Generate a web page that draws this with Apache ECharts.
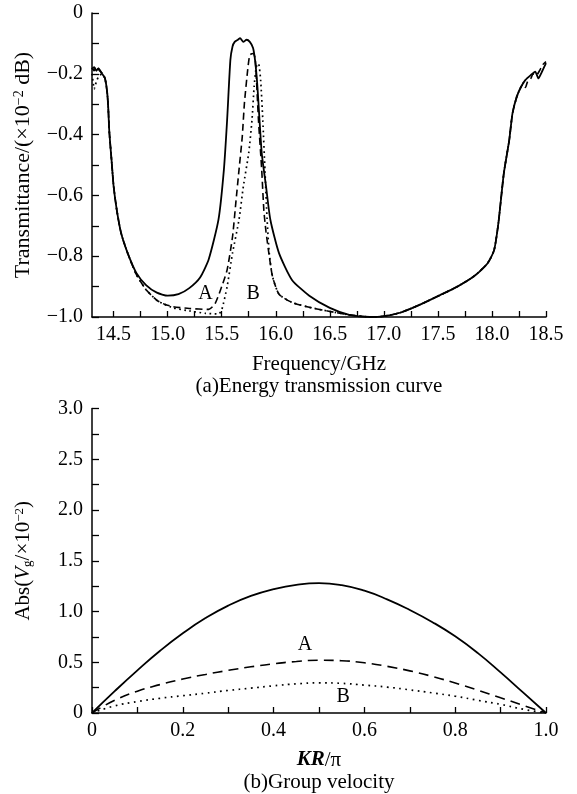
<!DOCTYPE html>
<html><head><meta charset="utf-8">
<script src="https://cdn.jsdelivr.net/npm/echarts@6/dist/echarts.min.js"></script>
<style>html,body{margin:0;padding:0;background:#fff}#c{width:577px;height:794px}</style>
</head><body><div id="c"></div>
<script>
// ---------- (a) Energy transmission curve ----------
const freqSolid = [14.30,14.32,14.34,14.36,14.39,14.42,14.44,14.45,14.46,14.48,14.50,14.53,14.57,14.63,14.71,14.80,14.90,15.00,15.10,15.20,15.30,15.38,15.47,15.52,15.55,15.58,15.60,15.62,15.65,15.67,15.70,15.73,15.76,15.79,15.81,15.83,15.87,15.91,15.95,16.03,16.15,16.31,16.50,16.68,16.87,16.99,17.15,17.33,17.52,17.68,17.83,17.96,18.02,18.06,18.11,18.16,18.19,18.23,18.27,18.31,18.36,18.40,18.43,18.46,18.50];
const transSolid = [-0.185,-0.178,-0.19,-0.182,-0.198,-0.215,-0.26,-0.31,-0.39,-0.48,-0.57,-0.65,-0.725,-0.79,-0.855,-0.895,-0.92,-0.93,-0.925,-0.905,-0.87,-0.81,-0.68,-0.516,-0.352,-0.155,-0.11,-0.095,-0.088,-0.083,-0.095,-0.088,-0.095,-0.115,-0.16,-0.24,-0.46,-0.57,-0.68,-0.79,-0.878,-0.93,-0.97,-0.993,-1.0,-0.998,-0.986,-0.96,-0.928,-0.90,-0.867,-0.823,-0.78,-0.69,-0.527,-0.418,-0.33,-0.275,-0.242,-0.22,-0.204,-0.193,-0.215,-0.195,-0.165];

const freqA = [14.30,14.32,14.34,14.37,14.40,14.42,14.44,14.45,14.46,14.48,14.50,14.53,14.57,14.63,14.71,14.80,14.90,14.97,15.05,15.20,15.38,15.44,15.50,15.55,15.60,15.63,15.66,15.69,15.71,15.74,15.76,15.79,15.81,15.84,15.87,15.89,15.91,15.94,15.97,16.03,16.15,16.31,16.43,16.55,16.68,16.87,16.99,17.15,17.33,17.52,17.68,17.83,17.96,18.02,18.06,18.11,18.16,18.19,18.23,18.27,18.29,18.31,18.33,18.36,18.38,18.41,18.44,18.47,18.50];
const transA = [-0.18,-0.19,-0.175,-0.19,-0.20,-0.215,-0.26,-0.31,-0.39,-0.48,-0.57,-0.65,-0.725,-0.79,-0.86,-0.91,-0.945,-0.958,-0.966,-0.972,-0.975,-0.955,-0.90,-0.845,-0.736,-0.626,-0.516,-0.407,-0.297,-0.188,-0.138,-0.133,-0.15,-0.352,-0.516,-0.65,-0.72,-0.80,-0.867,-0.925,-0.952,-0.968,-0.977,-0.985,-0.993,-1.0,-0.998,-0.986,-0.96,-0.928,-0.90,-0.867,-0.823,-0.78,-0.69,-0.527,-0.418,-0.33,-0.275,-0.242,-0.235,-0.245,-0.225,-0.215,-0.20,-0.205,-0.19,-0.17,-0.16];

const freqB = [14.30,14.31,14.32,14.34,14.36,14.39,14.42,14.44,14.45,14.46,14.48,14.50,14.53,14.57,14.63,14.71,14.80,14.90,14.97,15.05,15.20,15.35,15.47,15.50,15.55,15.60,15.66,15.70,15.75,15.78,15.80,15.82,15.84,15.86,15.88,15.90,15.92,15.94,15.97,16.03,16.15,16.31,16.43,16.55,16.68,16.87,16.99,17.15,17.33,17.52,17.68,17.83,17.96,18.02,18.06,18.11,18.16,18.19,18.23,18.27,18.31];
const transB = [-0.20,-0.226,-0.25,-0.226,-0.21,-0.20,-0.215,-0.26,-0.31,-0.39,-0.48,-0.57,-0.65,-0.725,-0.79,-0.86,-0.91,-0.945,-0.958,-0.97,-0.98,-0.988,-0.99,-0.977,-0.90,-0.79,-0.68,-0.571,-0.46,-0.352,-0.242,-0.177,-0.166,-0.22,-0.352,-0.516,-0.68,-0.79,-0.867,-0.925,-0.952,-0.968,-0.977,-0.985,-0.993,-1.0,-0.998,-0.986,-0.96,-0.928,-0.90,-0.867,-0.823,-0.78,-0.69,-0.527,-0.418,-0.33,-0.275,-0.242,-0.22];

const freqTicks = [14.5,14.75,15,15.25,15.5,15.75,16,16.25,16.5,16.75,17,17.25,17.5,17.75,18,18.25,18.5];
const freqLabels = [14.5,15,15.5,16,16.5,17,17.5,18,18.5];

// ---------- (b) Group velocity ----------
const kr = [0,0.05,0.1,0.15,0.2,0.25,0.3,0.35,0.4,0.45,0.5,0.55,0.6,0.65,0.7,0.75,0.8,0.85,0.9,0.95,1.0];
const vgSolid = [0,0.215,0.42,0.613,0.785,0.935,1.058,1.153,1.22,1.263,1.28,1.26,1.205,1.12,1.015,0.895,0.755,0.59,0.40,0.20,0];
const vgA = [0,0.125,0.215,0.28,0.335,0.38,0.42,0.455,0.485,0.507,0.52,0.515,0.495,0.46,0.415,0.36,0.295,0.225,0.15,0.075,0];
const vgB = [0,0.07,0.113,0.145,0.17,0.195,0.222,0.245,0.268,0.287,0.297,0.292,0.275,0.255,0.228,0.198,0.165,0.125,0.085,0.037,0];

const labelsTop = [{t:'A', f:15.35, v:-0.922},{t:'B', f:15.79, v:-0.922}];
const labelsBottom = [{t:'A', f:0.469, v:0.672},{t:'B', f:0.553, v:0.163}];

const FONT = "'Liberation Serif','Times New Roman',serif";
const zip = (a,b)=>a.map((x,i)=>[x,b[i]]);
const MINUS = '\u2212';

const axisLineS = {show:true, onZero:false, lineStyle:{color:'#000', width:1.5}};
const lblS = {color:'#000', fontFamily:FONT, fontSize:20};

function mp(list){
  return {symbol:'circle', symbolSize:0, silent:true,
    label:{show:true, position:'inside', color:'#000', fontFamily:FONT, fontSize:20, formatter:p=>p.name},
    data:list.map(o=>({name:o.t, coord:[o.f,o.v]}))};
}

const chart = echarts.init(document.getElementById('c'), null, {renderer:'canvas'});
chart.setOption({
  backgroundColor:'#fff',
  animation:false,
  grid:[
    {left:92, right:31, top:13, height:304},
    {left:92, right:31, top:408.5, height:305}
  ],
  xAxis:[
    {type:'value', gridIndex:0, min:14.3, max:18.5,
     axisLine:axisLineS, splitLine:{show:false},
     axisTick:{show:true, inside:true, length:6, lineStyle:{color:'#000', width:1.3}, customValues:freqTicks},
     axisLabel:Object.assign({margin:8, customValues:freqLabels, formatter:v=>v.toFixed(1)}, lblS),
     name:'{a|Frequency/GHz}\n{a|(a)Energy transmission curve}', nameLocation:'middle', nameGap:36,
     nameTextStyle:{color:'#000', fontFamily:FONT, fontSize:21, lineHeight:22,
       rich:{a:{fontFamily:FONT, fontSize:21, lineHeight:22, color:'#000'}}}},
    {type:'value', gridIndex:1, min:0, max:1, interval:0.1,
     axisLine:axisLineS, splitLine:{show:false},
     axisTick:{show:true, inside:true, length:6, lineStyle:{color:'#000', width:1.3}},
     axisLabel:Object.assign({margin:8, formatter:v=>{const r=Math.round(v*10); if(r%2) return ''; return r===0?'0':v.toFixed(1);}}, lblS),
     name:'{kr|KR}{n|/π}\n{n|(b)Group velocity}', nameLocation:'middle', nameGap:36,
     nameTextStyle:{color:'#000', fontFamily:FONT, fontSize:21, lineHeight:22,
       rich:{kr:{fontFamily:FONT, fontSize:21, lineHeight:22, fontStyle:'italic', fontWeight:'bold', color:'#000'},
             n:{fontFamily:FONT, fontSize:21, lineHeight:22, color:'#000'}}}}
  ],
  yAxis:[
    {type:'value', gridIndex:0, min:-1, max:0, interval:0.1,
     axisLine:axisLineS, splitLine:{show:false},
     axisTick:{show:true, inside:true, length:7, lineStyle:{color:'#000', width:1.3}},
     axisLabel:Object.assign({margin:9, formatter:v=>{const r=Math.round(v*10); if(r%2) return ''; return r===0?'0':MINUS+Math.abs(v).toFixed(1);}}, lblS),
     name:'{a|Transmittance/(×10}{s|'+MINUS+'2}{a| dB)}', nameLocation:'middle', nameRotate:90, nameGap:58,
     nameTextStyle:{color:'#000', fontFamily:FONT, fontSize:22,
       rich:{a:{fontFamily:FONT, fontSize:22, color:'#000'},
             s:{fontFamily:FONT, fontSize:14, color:'#000', verticalAlign:'top'}}}},
    {type:'value', gridIndex:1, min:0, max:3, interval:0.25,
     axisLine:axisLineS, splitLine:{show:false},
     axisTick:{show:true, inside:true, length:7, lineStyle:{color:'#000', width:1.3}},
     axisLabel:Object.assign({margin:9, formatter:v=>{const r=Math.round(v*4); if(r%2) return ''; return r===0?'0':v.toFixed(1);}}, lblS),
     name:'{a|Abs(}{i|V}{g|g}{a|/×10}{s|'+MINUS+'2}{a|)}', nameLocation:'middle', nameRotate:90, nameGap:58,
     nameTextStyle:{color:'#000', fontFamily:FONT, fontSize:21,
       rich:{a:{fontFamily:FONT, fontSize:21, color:'#000'},
             i:{fontFamily:FONT, fontSize:21, fontStyle:'italic', color:'#000'},
             g:{fontFamily:FONT, fontSize:13, color:'#000', verticalAlign:'bottom'},
             s:{fontFamily:FONT, fontSize:13, color:'#000', verticalAlign:'top'}}}}
  ],
  series:[
    {type:'line', xAxisIndex:0, yAxisIndex:0, data:zip(freqB,transB), showSymbol:false, smooth:0.2,
     lineStyle:{color:'#000', width:1.7, type:[1.7,3.4]}},
    {type:'line', xAxisIndex:0, yAxisIndex:0, data:zip(freqA,transA), showSymbol:false, smooth:0.2,
     lineStyle:{color:'#000', width:1.6, type:[7,4]}, markPoint:mp(labelsTop)},
    {type:'line', xAxisIndex:0, yAxisIndex:0, data:zip(freqSolid,transSolid), showSymbol:false, smooth:0.2,
     lineStyle:{color:'#000', width:1.8, type:'solid'}},
    {type:'line', xAxisIndex:1, yAxisIndex:1, data:zip(kr,vgB), showSymbol:false, smooth:0.5,
     lineStyle:{color:'#000', width:1.7, type:[1.7,4.5]}},
    {type:'line', xAxisIndex:1, yAxisIndex:1, data:zip(kr,vgA), showSymbol:false, smooth:0.5,
     lineStyle:{color:'#000', width:1.6, type:[10,6]}, markPoint:mp(labelsBottom)},
    {type:'line', xAxisIndex:1, yAxisIndex:1, data:zip(kr,vgSolid), showSymbol:false, smooth:0.5,
     lineStyle:{color:'#000', width:1.8, type:'solid'}}
  ]
});
</script></body></html>
